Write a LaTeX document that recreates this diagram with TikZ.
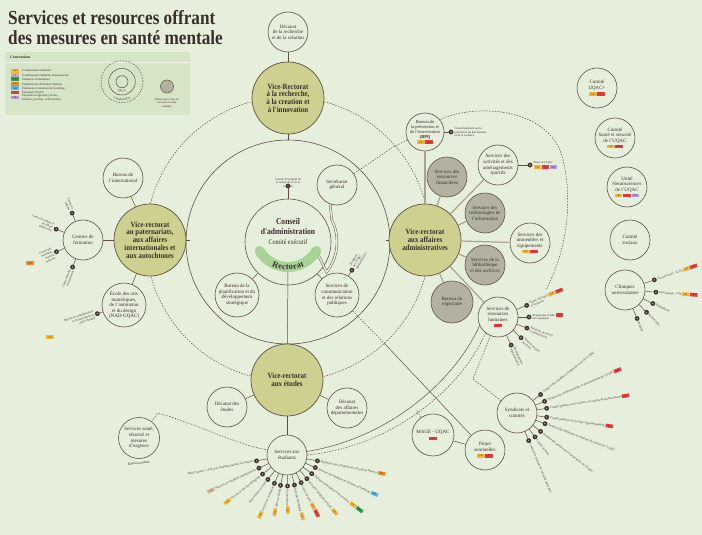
\documentclass[tikz,border=0pt]{standalone}
\usepackage{fontspec}
\setmainfont{Liberation Serif}
\newfontfamily\hfont[FakeStretch=0.86]{Liberation Serif}
\usetikzlibrary{decorations.text,calc}
\definecolor{bg}{HTML}{E6EFDB}
\definecolor{lgbox}{HTML}{D6E4C8}
\definecolor{lc}{HTML}{5E5044}
\definecolor{vrf}{HTML}{CDD08E}
\definecolor{grf}{HTML}{B3B2A1}
\definecolor{rect}{HTML}{A8D296}
\definecolor{tit}{HTML}{3A2F29}
\definecolor{vline}{HTML}{ABA38F}
\definecolor{cCE}{HTML}{F2B53A}
\definecolor{cCI}{HTML}{C9B69C}
\definecolor{cEF}{HTML}{2E9A5E}
\definecolor{cPN}{HTML}{EE8B2F}
\definecolor{cSH}{HTML}{58B4E2}
\definecolor{cP}{HTML}{E4383E}
\definecolor{cPR}{HTML}{B59AD8}
\newcommand\tg[2]{{\setlength{\fboxsep}{0.55pt}\colorbox{#1}{\makebox[6.4pt]{\fontsize{2.7}{2.7}\selectfont\color{tit}\rule{0pt}{2.5pt}#2}}}}
\tikzset{
 conn/.style={draw=lc, line width=0.5pt},
 dconn/.style={draw=lc, line width=0.5pt, dash pattern=on 1.5pt off 1.3pt},
 vconn/.style={draw=vline, line width=1.2pt},
 dbl/.style={draw=lc, line width=0.45pt, double=bg, double distance=1.5pt},
 sc/.style={circle, draw=lc, line width=0.6pt, fill=bg, inner sep=0pt, minimum size=40pt},
 gc/.style={sc, fill=grf},
 vr/.style={sc, fill=vrf, minimum size=72pt, line width=0.7pt},
 ctext/.style={align=center, inner sep=0pt, text=tit, font=\fontsize{5}{5.6}\selectfont},
 vtext/.style={align=center, inner sep=0pt, text=tit, font=\hfont\bfseries\fontsize{8}{7.8}\selectfont},
 dot/.style={circle, fill=tit, draw=tit, line width=0.3pt, inner sep=0pt, minimum size=4.4pt, path picture={\fill[grf] (path picture bounding box.center) circle (0.8pt);}},
 lbl/.style={text=tit, inner sep=1pt, font=\fontsize{3}{3.5}\selectfont},
 tagn/.style={inner sep=0pt},
}
\newcommand\cnode[4][sc]{\node[#1] (#2) at (#3) {}; \node[ctext] (#2-t) at (#2.center) {#4};}
\newcommand\vnode[3]{\node[vr] (#1) at (#2) {}; \node[vtext] (#1-t) at (#1.center) {#3};}
\newcommand\fan[3]{%
  \foreach \a/\t [count=\i] in {#3} {
    \path (#1.center) ++(\a:#2) node[dot] (#1-d\i) {};
    \draw[conn] (#1) -- (#1-d\i);
    \pgfmathtruncatemacro\side{(cos(\a)<0)?1:0}
    \ifnum\side=1
      \node[lbl, anchor=east, align=right, rotate=\a-180] (#1-l\i) at (#1-d\i.\a) {\t};
    \else
      \node[lbl, anchor=west, align=left, rotate=\a] (#1-l\i) at (#1-d\i.\a) {\t};
    \fi
  }
}
\begin{document}
\begin{tikzpicture}[x=1pt,y=1pt]
\fill[bg] (0,0) rectangle (702,-535);
\useasboundingbox (0,0) rectangle (702,-535);

% ---------- title
\node[anchor=base west, inner sep=0, text=tit, font=\hfont\bfseries\fontsize{20}{20}\selectfont] (title1) at (8,-25) {Services et resources offrant};
\node[anchor=base west, inner sep=0, text=tit, font=\hfont\bfseries\fontsize{20}{20}\selectfont] (title2) at (8,-45) {des mesures en santé mentale};

% ---------- legend
\path[fill=lgbox, rounded corners=3pt] (5,-52) rectangle (190,-115);
\node[anchor=west, inner sep=0, font=\bfseries\fontsize{3.8}{4}\selectfont, text=tit] (lgh) at (10,-57.5) {Conventions};
\draw[white, line width=0.6pt, opacity=0.6] (5,-62.5) -- (190,-62.5);
\foreach \yy/\c/\ab/\tx [count=\i] in {70.7/cCE/CE/{Communauté étudiante},75/cCI/CI/{Communauté étudiante internationale},79.3/cEF/EF/{Étudiants et étudiantes},83.7/cPN/PN/{Étudiants des Premières Nations},88/cSH/SH/{Étudiants en situation de handicap},92.3/cP/P/{Personnel UQAC},97.5/cPR/PR/{Population régionale (écoles,\\familles, proches, collectivités)}}{
  \node[tagn] (lgt\i) at (15,-\yy) {\tg{\c}{\ab}};
  \node[lbl, anchor=west, align=left, font=\fontsize{3.1}{3.6}\selectfont] (lgx\i) at (21,-\yy) {\tx};
}
\node[circle, draw=lc, line width=0.5pt, minimum size=12pt, inner sep=0] (lgc1) at (122,-81.7) {};
\node[circle, draw=lc, line width=0.5pt, minimum size=26.6pt, inner sep=0] (lgc2) at (122,-81.7) {};
\node[circle, dconn, minimum size=42pt, inner sep=0] (lgc3) at (122,-81.7) {};
\path[decorate, decoration={text along path, text align=center, raise=-1pt, text={|\fontsize{3}{3}\selectfont\color{tit}|Direct}}] ($(122,-81.7)+(225:9.3)$) arc (225:315:9.3);
\path[decorate, decoration={text along path, text align=center, raise=-1pt, text={|\fontsize{3}{3}\selectfont\color{tit}|Collaboration}}] ($(122,-81.7)+(215:17.8)$) arc (215:325:17.8);
\node[gc, minimum size=13pt, line width=0.5pt] (lgg) at (167,-86.5) {};
\node[lbl, align=center, font=\fontsize{2.8}{3.3}\selectfont] (lggt) at (167,-103) {Milieu qui n'a pas de\\mesures en santé\\mentale};

% ---------- rings
\draw[dconn] (288,-239) circle (142);
\draw[conn, line width=0.6pt] (288,-242) circle (102);

% ---------- vice-rectorats
\vnode{vrr}{288,-98}{Vice-Rectorat\\à la recherche,\\à la creation et\\à l'innovation}
\vnode{vrp}{150,-240}{Vice-rectorat\\au paternariats,\\aux affaires\\internationales et\\aux autochtones}
\vnode{vra}{425,-240}{Vice-rectorat\\aux affaires\\administratives}
\vnode{vre}{287,-380}{Vice-rectorat\\aux études}

% ---------- conseil
\node[circle, draw=lc, line width=0.6pt, fill=bg, minimum size=86pt, inner sep=0] (ca) at (288,-242) {};
\coordinate (rbot) at (288,-271.5);
\draw[conn] (rbot) -- (vre);
\draw[dbl] (337,-185) ++(250:20) coordinate (secA) -- ($(288,-242)+(27:49)$) arc (27:-38:49) -- ($(288,-234)+(329:33)$) coordinate (rectR);
\draw[rect, line width=10pt, line cap=round] ($(288,-234)+(211:33)$) arc (211:329:33);
\path[decorate, decoration={text along path, text align=center, raise=-2.8pt, text={|\bfseries\fontsize{8.5}{8.5}\selectfont\color{tit}|Rectorat}}] ($(288,-234)+(206:33)$) arc (206:334:33);
\node[anchor=base, inner sep=0, text=tit, font=\hfont\bfseries\fontsize{8.8}{9}\selectfont] (cat1) at (288,-224) {Conseil};
\node[anchor=base, inner sep=0, text=tit, font=\hfont\bfseries\fontsize{8.8}{9}\selectfont] (cat2) at (288,-234.3) {d'administration};
\node[anchor=base, inner sep=0, text=tit, font=\hfont\fontsize{7}{7}\selectfont] (cat3) at (288,-244) {Comité exécutif};

% ---------- small circles
\cnode{decr}{288,-32}{Décanat\\de la recherche\\et de la création}
\cnode{bint}{123,-178}{Bureau de\\l'international}
\cnode{cform}{83,-240}{Centres de\\formation}
\cnode[sc,minimum size=44pt]{enad}{124,-305}{École des arts\\numériques,\\de l'animation\\et du design\\(NAD-UQAC)}
\cnode{secr}{337,-185}{Secrétariat\\général}
\cnode[sc,minimum size=44pt]{bplan}{237,-295}{Bureau de la\\planification et du\\développement\\stratégique}
\cnode[sc,minimum size=44pt]{scom}{337,-295}{Services de\\communication\\et des relations\\publiques}
\node[sc, minimum size=38pt] (bpi) at (425,-132) {};
\node[ctext, font=\fontsize{4.5}{5.1}\selectfont] (bpi-t) at (bpi.center) {Bureau de\\la prévention et\\de l'intervention\\{\bfseries (BPI)}\\\tg{cCE}{CE}\,\tg{cP}{P}};
\cnode[gc]{sfin}{447,-177}{Services des\\ressources\\financières}
\cnode{sact}{498,-165}{Services des\\activités et des\\aménagements\\sportifs}
\cnode[gc]{sti}{485,-213}{Services des\\technologies de\\l'information}
\cnode{simm}{530,-243}{Services des\\immeubles et\\équipements\\\tg{cCE}{CE}\,\tg{cP}{P}}
\cnode[gc]{sbib}{485,-265}{Services de la\\bibliothèque\\et des archives}
\cnode[gc,minimum size=42pt]{breg}{452,-302}{Bureau du\\registraire}
\cnode{srh}{498,-317}{Services de\\ressources\\humaines\\\tg{cP}{P}}
\cnode{cuqac}{597,-88}{Comité\\UQAC+\\\tg{cCE}{CE}\,\tg{cP}{P}}
\cnode{css}{615,-138}{Comité\\Santé et sécurité\\de l'UQAC\\\tg{cCE}{CE}\,\tg{cP}{P}}
\cnode{uneu}{627,-187}{Unité\\Neurosciences\\de l'UQAC\\\tg{cCE}{CE}\,\tg{cP}{P}\,\tg{cPR}{PR}}
\cnode{csoc}{630,-240}{Comité\\sociaux}
\cnode{cuni}{625,-290}{Cliniques\\universitaires}
\cnode{dete}{227,-407}{Décanat des\\études}
\cnode{dada}{347,-408}{Décanat\\des affaires\\départementales}
\cnode{sae}{287,-455}{Services aux\\étudiants}
\cnode[sc,minimum size=41pt]{ssmu}{139,-438}{Services santé,\\sécurité et\\mesures\\d'urgence}
\node[lbl, font=\fontsize{3.6}{4}\selectfont, rotate=6] (ssmu-x) at (139,-463) {Réseau externe};
\cnode[sc,minimum size=42pt]{mage}{433,-435}{MAGE - UQAC\\[1pt]\tg{cP}{P}}
\cnode{psent}{485,-450}{Projet\\sentinelles\\\tg{cCE}{CE}\,\tg{cP}{P}}
\cnode{synd}{517,-413}{Syndicats et\\comités}

% ---------- connectors
\draw[conn] (decr) -- (vrr);
\draw[conn] (vrr) -- (288,-140);
\draw[conn] (vrp) -- (190,-240);
\draw[conn] (vra) -- (386,-240);
\draw[conn] (vrp) -- (bint);
\draw[conn] (vrp) -- (cform);
\draw[conn] (vrp) -- (enad);
\draw[conn] (ca) -- (bplan);
\draw[conn] (ca) -- (scom);
\foreach \n in {bpi,sfin,sact,sti,simm,sbib,breg,srh}{\draw[vconn] (vra) -- (\n);}
\draw[conn] (vre) -- (dete);
\draw[conn] (vre) -- (dada);
\draw[conn] (vre) -- (sae);
\coordinate (ringB) at (394,-146.5);
\draw[dconn] (bpi) -- (ringB);
\draw[dconn] (secr) -- (ringB);
\draw[dconn] (bpi.40) .. controls (470,-105) and (540,-105) .. (560,-150) .. controls (572,-185) and (572,-240) .. (546,-290);
\coordinate (bendS) at (473,-379);
\draw[dconn] (synd) -- (bendS) -- (srh);
\draw[conn] (sae.10) .. controls (390,-438) and (455,-380) .. (srh.205);
\draw[dconn] (sae.0) .. controls (395,-446) and (463,-386) .. (srh.232);
\coordinate (mageJ) at (416,-410);
\draw[dconn] (mage) -- (mageJ);
\coordinate (ringX) at (384,-343);
\draw[dconn] (scom) -- (ringX);
\draw[conn] (ringX) -- (psent);
\draw[conn] (mage) -- (psent);
\coordinate (ssJ) at (158,-413);
\draw[dconn] (ssmu) -- (ssJ) .. controls (200,-425) and (240,-446) .. (sae.165);

% ---------- dots and labels
\node[dot] (cdot) at (288,-186) {};
\draw[conn] (ca) -- (cdot);
\node[lbl, align=center, anchor=south] (cdl) at (288,-188.5) {Comité d'intégrité de\\la recherche et de la\\création};
\fan{scom}{29}{59/{Fondation\\de l'UQAC\\(philanthropie)}}
\fan{cform}{29}{112/{Centre de\\langues},158/{Centre de langue et\\de culture\\québécoise},204/{Centre des\\Premières\\Nations\\Nikanite},249/{Centre d'études\\universitaires}}
\node[tagn] (tgPN1) at (30,-263) {\tg{cPN}{PN}};
\fan{enad}{28}{198/{Bureau de sensibilisation\\et de prévention en\\santé mentale}}
\node[tagn] (tgCE1) at (50,-337) {\tg{cCE}{CE}};
\fan{bpi}{26}{0/{Conseil paritaire sur la\\prévention du harcèlement\\et de la violence}}
\fan{sact}{32}{0/{Plein air UQAC\\\tg{cCE}{CE}\,\tg{cP}{P}\,\tg{cPR}{PR}}}
\fan{srh}{31}{22/{Équité, diversité \tg{cCE}{CE}\,\tg{cP}{P}\\et inclusion},0/{Programme d'aide \tg{cP}{P}\\aux employés},339/{Relations de travail\\et rémunération},318/{Santé et sécurité\\au travail},295/{Développement\\organisationnel}}
\fan{cuni}{31}{19/{Travail social - CLSS \tg{cCE}{CE}\tg{cP}{P}},356/{Psychologie - CIP \tg{cCE}{CE}\,\tg{cP}{P}},334/{Orthophonie},314/{Kinésiologie},293/{Podiatrie}}
\fan{synd}{30}{38/{Syndicat des chargées et chargés de cours de l'UQAC},23/{Syndicat des professionnelles et professionnels de l'UQAC \tg{cP}{P}},9/{Comité paritaire sur le soutien aux employés professionnels \tg{cP}{P}},352/{Comité paritaire sur la santé organisationnelle \tg{cP}{P}},339/{Syndicat des employées et employés de soutien de l'UQAC},322/{Syndicat des professeures et professeurs de l'UQAC},307/{Comité de santé},293/{Comité des relations de travail du personnel}}
\fan{sae}{31}{191/{Relai 2 jeunes : aide pour étudiants parents à la maison},205/{\tg{cCI}{CI} Services aux étudiants internationaux},218/{\tg{cCE}{CE} Services d'aide psychologique},232/{Plan d'action en santé},246/{\tg{cCE}{CE} Services d'orientation},258/{\tg{cCE}{CE} Aide aux études},271/{Vie étudiante \tg{cCE}{CE}},284/{Aide psychologique \tg{cCE}{CE}},297/{Centre de santé \tg{cCE}{CE}\,\tg{cP}{P}},310/{Accueil et intégration UQAC \tg{cCE}{CE}},323/{Clinique universitaire d'intervention \tg{cCE}{CE}\,\tg{cEF}{EF}},336/{Services aux étudiants en situation de handicap \tg{cSH}{SH}},349/{Résidences des étudiants des Premières Nations \tg{cPN}{PN}}}
\end{tikzpicture}
\end{document}
